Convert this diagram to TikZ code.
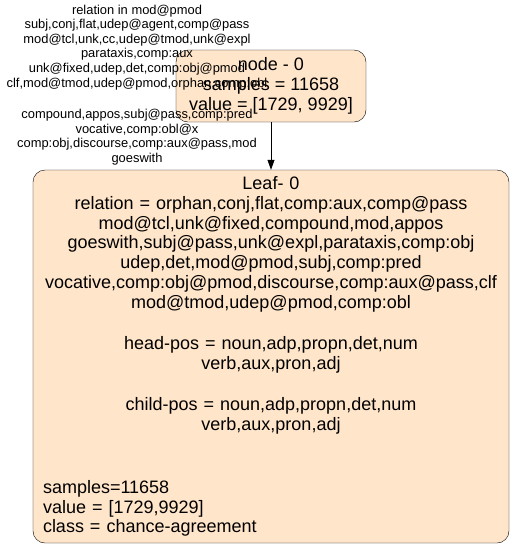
\documentclass[tikz,border=0pt]{standalone}
\usepackage{fontspec}
\setmainfont{Liberation Sans}
\usetikzlibrary{arrows.meta}
\definecolor{nodebg}{HTML}{FFE5C9}
\newcommand{\boxfont}[0] {\fontsize{18}{19.8}\selectfont}
\newcommand{\lblfont}[0] {\fontsize{12.9}{14.6}\selectfont}

\begin{document}
\begin{tikzpicture}[x=1pt,y=-1pt]
        \useasboundingbox (0,0) rectangle (515,550);
        %tree nodes
        \node[shape=rectangle,rounded corners=12pt,draw=black,fill=nodebg,minimum width=190pt,minimum height=72pt,align=center,font=\boxfont] (root) at (271,86) {node - 0\\samples = 11658\\value = [1729, 9929]};
        \node[shape=rectangle,rounded corners=12pt,draw=black,fill=nodebg,minimum width=476pt,minimum height=373pt,text width=456pt,inner xsep=10pt,align=center,font=\boxfont] (leaf) at (271,356.5) {Leaf- 0\\
relation = orphan,conj,flat,comp:aux,comp@pass\\
mod@tcl,unk@fixed,compound,mod,appos\\
goeswith,subj@pass,unk@expl,parataxis,comp:obj\\
udep,det,mod@pmod,subj,comp:pred\\
vocative,comp:obj@pmod,discourse,comp:aux@pass,clf\\
mod@tmod,udep@pmod,comp:obl\\[21.5pt]
head-pos = noun,adp,propn,det,num\\
verb,aux,pron,adj\\[21.5pt]
child-pos = noun,adp,propn,det,num\\
verb,aux,pron,adj\\[43pt]
\makebox[\linewidth][l]{samples=11658}\\
\makebox[\linewidth][l]{value = [1729,9929]}\\
\makebox[\linewidth][l]{class = chance-agreement}};
        %edge label
        \node[align=center,font=\lblfont,inner sep=0pt] (lbl) at (137,85) {relation in mod@pmod\\
subj,conj,flat,udep@agent,comp@pass\\
mod@tcl,unk,cc,udep@tmod,unk@expl\\
parataxis,comp:aux\\
unk@fixed,udep,det,comp:obj@pmod\\
clf,mod@tmod,udep@pmod,orphan,comp:obl\\[17pt]
compound,appos,subj@pass,comp:pred\\
vocative,comp:obl@x\\
comp:obj,discourse,comp:aux@pass,mod\\
goeswith};
        %edges
        \path[-{Triangle[length=10pt,width=7pt]},thick] (root) edge (leaf);
\end{tikzpicture}
\end{document}
